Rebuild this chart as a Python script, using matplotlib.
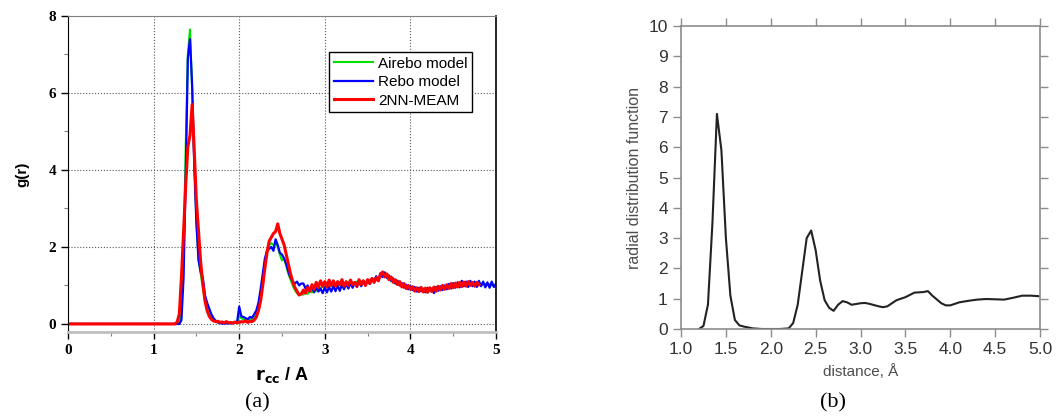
import numpy as np
import matplotlib
matplotlib.use("Agg")
import matplotlib.pyplot as plt

# ---- panel (a): g(r) for three potentials ----
r_start = 1.25
r_step = 0.025

airebo = [
    0.00, 0.00, 0.02, 0.35, 1.90, 4.60, 7.00, 7.65, 6.10, 4.30,
    2.70, 1.70, 1.30, 0.95, 0.65, 0.40, 0.25, 0.15, 0.10, 0.06,
    0.04, 0.03, 0.02, 0.03, 0.02, 0.03, 0.02, 0.04, 0.03, 0.05,
    0.20, 0.15, 0.12, 0.10, 0.12, 0.10, 0.14, 0.15, 0.25, 0.45,
    0.80, 1.20, 1.60, 1.90, 2.05, 2.10, 2.05, 2.10, 2.00, 1.80,
    1.65, 1.70, 1.50, 1.30, 1.15, 1.00, 0.88, 0.80, 0.75, 0.78,
    0.76, 0.82, 0.78, 0.85, 0.82, 0.90, 0.86, 0.95, 0.92, 0.98,
    0.95, 1.00, 0.97, 1.02, 0.98, 1.03, 1.00, 1.05, 1.02, 1.06,
    1.03, 1.05, 1.08, 1.04, 1.08, 1.10, 1.06, 1.10, 1.12, 1.08,
    1.12, 1.15, 1.12, 1.18, 1.15, 1.20, 1.25, 1.22, 1.28, 1.20,
    1.15, 1.12, 1.10, 1.05, 1.08, 1.02, 1.00, 0.98, 0.95, 0.97,
    0.92, 0.94, 0.90, 0.92, 0.88, 0.90, 0.88, 0.92, 0.89, 0.91,
    0.88, 0.92, 0.90, 0.94, 0.92, 0.96, 0.94, 0.98, 0.95, 0.98,
    0.97, 1.00, 0.98, 1.01, 0.99, 1.02, 1.00, 1.03, 1.01, 1.04,
    1.02, 1.05, 1.03, 1.05, 1.02, 1.04, 1.01, 1.03, 1.00, 1.02,
    0.98,
]

rebo = [
    0.00, 0.00, 0.00, 0.10, 1.20, 3.80, 6.90, 7.40, 6.20, 4.10,
    2.60, 1.65, 1.35, 1.20, 0.75, 0.55, 0.40, 0.25, 0.15, 0.08,
    0.04, 0.02, 0.01, 0.01, 0.02, 0.01, 0.02, 0.02, 0.03, 0.04,
    0.45, 0.20, 0.18, 0.15, 0.12, 0.18, 0.16, 0.25, 0.35, 0.55,
    0.90, 1.30, 1.70, 1.90, 1.95, 2.00, 1.90, 2.20, 2.05, 1.85,
    1.80, 1.70, 1.55, 1.35, 1.20, 1.10, 1.05, 1.10, 1.00, 1.05,
    1.05, 0.92, 1.00, 0.85, 0.98, 0.82, 0.95, 0.84, 0.92, 0.80,
    0.95, 0.82, 0.96, 0.84, 0.98, 0.85, 1.00, 0.86, 1.02, 0.90,
    1.04, 0.92, 1.06, 0.94, 1.08, 0.96, 1.10, 0.98, 1.12, 1.00,
    1.14, 1.04, 1.18, 1.08, 1.24, 1.12, 1.32, 1.22, 1.34, 1.20,
    1.26, 1.12, 1.18, 1.05, 1.12, 1.00, 1.06, 0.94, 1.02, 0.90,
    0.98, 0.88, 0.96, 0.84, 0.94, 0.85, 0.92, 0.82, 0.94, 0.86,
    0.92, 0.80, 0.96, 0.86, 0.98, 0.88, 1.00, 0.90, 1.04, 0.92,
    1.06, 0.94, 1.08, 0.95, 1.12, 0.98, 1.10, 0.96, 1.12, 0.98,
    1.10, 0.96, 1.12, 0.98, 1.10, 0.95, 1.08, 0.94, 1.10, 0.96,
    1.04,
]

meam = [
    0.00, 0.05, 0.25, 1.20, 2.40, 3.60, 4.60, 4.90, 5.70, 4.50,
    3.20, 2.40, 1.60, 1.05, 0.60, 0.35, 0.20, 0.12, 0.08, 0.06,
    0.07, 0.04, 0.05, 0.03, 0.06, 0.03, 0.04, 0.02, 0.05, 0.03,
    0.04, 0.06, 0.05, 0.08, 0.04, 0.07, 0.06, 0.10, 0.18, 0.35,
    0.60, 1.00, 1.45, 1.85, 2.15, 2.25, 2.35, 2.40, 2.60, 2.35,
    2.20, 2.05, 1.80, 1.55, 1.30, 1.10, 0.95, 0.85, 0.75, 0.78,
    0.88, 0.80, 0.95, 0.85, 1.02, 0.90, 1.08, 0.95, 1.12, 0.98,
    1.10, 0.96, 1.14, 1.00, 1.12, 0.98, 1.10, 1.02, 1.15, 0.98,
    1.10, 1.00, 1.14, 1.02, 1.08, 0.98, 1.15, 1.02, 1.12, 1.00,
    1.15, 1.05, 1.18, 1.08, 1.20, 1.12, 1.28, 1.35, 1.22, 1.30,
    1.15, 1.22, 1.08, 1.15, 1.02, 1.10, 0.96, 1.05, 0.92, 1.00,
    0.90, 0.97, 0.85, 0.94, 0.84, 0.95, 0.83, 0.93, 0.82, 0.94,
    0.84, 0.96, 0.85, 0.98, 0.88, 1.00, 0.90, 1.02, 0.92, 1.05,
    0.94, 1.06, 0.96, 1.08, 0.97, 1.09, 0.98, 1.10, 1.00, 1.08,
    0.98, 1.08, 1.02,
]

# ---- panel (b): radial distribution function ----
rdf_x = [1.2, 1.25, 1.3, 1.35, 1.4, 1.45, 1.5, 1.55, 1.6, 1.65, 1.7, 1.8,
         1.9, 2.0, 2.1, 2.2, 2.25, 2.3, 2.35, 2.4, 2.45, 2.5, 2.55, 2.6,
         2.65, 2.7, 2.75, 2.8, 2.85, 2.9, 3.0, 3.05, 3.1, 3.2, 3.25, 3.3,
         3.4, 3.5, 3.6, 3.7, 3.75, 3.8, 3.9, 3.95, 4.0, 4.1, 4.2, 4.3,
         4.4, 4.5, 4.6, 4.7, 4.8, 4.9, 5.0]
rdf_y = [0.0, 0.1, 0.8, 3.5, 7.1, 5.9, 3.0, 1.1, 0.3, 0.12, 0.08, 0.02,
         0.0, 0.0, 0.0, 0.02, 0.2, 0.8, 1.9, 3.0, 3.25, 2.6, 1.6, 0.95,
         0.7, 0.6, 0.8, 0.92, 0.88, 0.8, 0.85, 0.86, 0.83, 0.75, 0.72, 0.75,
         0.95, 1.05, 1.2, 1.22, 1.25, 1.1, 0.85, 0.78, 0.78, 0.88, 0.93, 0.97,
         0.99, 0.98, 0.97, 1.03, 1.1, 1.1, 1.08]


def r_grid(n):
    return np.concatenate([[0.0], np.round(r_start + r_step * np.arange(n), 3)])


fig = plt.figure(figsize=(10.56, 4.19), dpi=100)

# ---------------- (a) ----------------
ax = fig.add_axes([0.0644, 0.2076, 0.4053, 0.7542])
for vals, col, lw, lab in [(airebo, "#00e000", 1.5, "Airebo model"),
                           (rebo, "#0000ff", 1.6, "Rebo model"),
                           (meam, "#ff0000", 2.2, "2NN-MEAM")]:
    ax.plot(r_grid(len(vals)), [0.0] + vals, color=col, lw=lw, label=lab)

ax.set_xlim(0, 5)
ax.set_ylim(-0.21, 8)
ax.set_xticks([0, 1, 2, 3, 4, 5])
ax.set_xticks([0.5, 1.5, 2.5, 3.5, 4.5], minor=True)
ax.set_yticks([0, 2, 4, 6, 8])
ax.set_yticks([1, 3, 5, 7], minor=True)
ax.grid(True, which="major", linestyle=":", color="0.35", lw=0.8)
ax.tick_params(which="major", direction="out", length=5, width=1, color="black")
ax.tick_params(which="minor", direction="out", length=3, width=0.8, color="0.5")
for lab in ax.get_xticklabels() + ax.get_yticklabels():
    lab.set_family("Liberation Serif")
    lab.set_fontweight("bold")
    lab.set_fontsize(11)
ax.spines["left"].set_color("black")
ax.spines["right"].set_color("black")
ax.spines["right"].set_linewidth(1.2)
ax.spines["top"].set_color("0.5")
ax.spines["bottom"].set_color("0.75")
ax.spines["bottom"].set_linewidth(2)

ax.set_xlabel(r"$\mathbf{r_{cc}}$ / A", fontsize=13, fontweight="bold",
              family="Liberation Sans", labelpad=6)
ax.set_ylabel("g(r)", fontsize=11, fontweight="bold", family="Liberation Sans",
              labelpad=14)

leg = ax.legend(loc="upper right", bbox_to_anchor=(0.944, 0.886),
                borderaxespad=0,
                prop={"family": "Liberation Sans", "size": 11},
                handlelength=2.6, handletextpad=0.3, labelspacing=0.3,
                borderpad=0.3, fancybox=False, framealpha=1)
leg.get_frame().set_edgecolor("black")
leg.get_frame().set_linewidth(1)

# ---------------- (b) ----------------
bx = fig.add_axes([0.6449, 0.2148, 0.34, 0.7231])
bx.plot(rdf_x, rdf_y, color="#222222", lw=1.5)
bx.set_xlim(1.0, 5.0)
bx.set_ylim(0, 10)
bx.set_xticks([1.0, 1.5, 2.0, 2.5, 3.0, 3.5, 4.0, 4.5, 5.0])
bx.set_xticklabels(["1.0", "1.5", "2.0", "2.5", "3.0", "3.5", "4.0", "4.5", "5.0"])
bx.set_yticks(range(0, 11))
bx.tick_params(direction="out", length=6, width=1, color="0.55",
               top=True, right=True, labelcolor="0.2", labelsize=12.5)
for lab in bx.get_xticklabels() + bx.get_yticklabels():
    lab.set_family("Liberation Sans")
for s in bx.spines.values():
    s.set_color("0.55")
    s.set_linewidth(1.2)
bx.set_xlabel("distance, Å", fontsize=11, color="0.3",
              family="Liberation Sans", labelpad=5)
bx.set_ylabel("radial distribution function", fontsize=11.5, color="0.3",
              family="Liberation Sans", labelpad=5)

fig.text(0.2434, 0.038, "(a)", fontsize=16, family="Liberation Serif",
         ha="center", va="center")
fig.text(0.7888, 0.038, "(b)", fontsize=16, family="Liberation Serif",
         ha="center", va="center")

fig.savefig("out.png", dpi=100)
